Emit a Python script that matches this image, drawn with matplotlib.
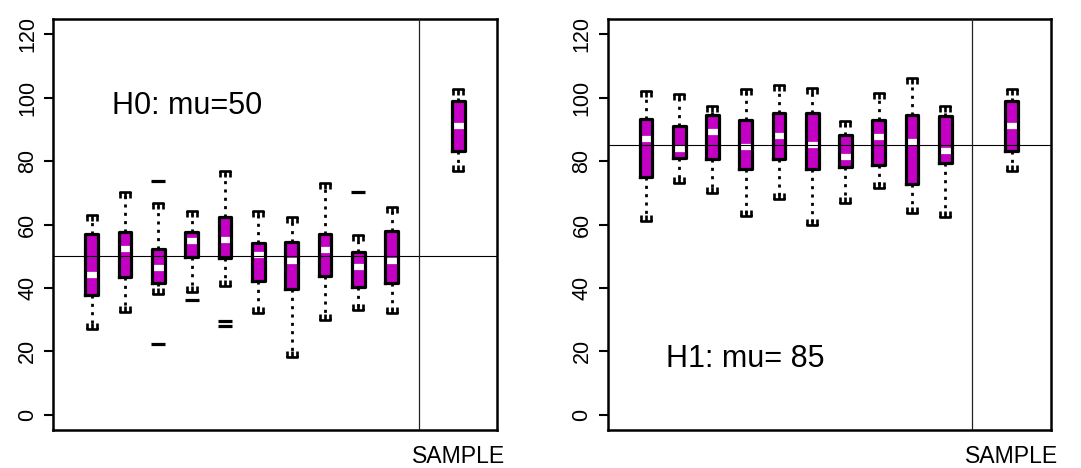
import matplotlib
matplotlib.use("Agg")
import matplotlib.pyplot as plt
from matplotlib.path import Path
import numpy as np

plt.rcParams['font.family'] = ['Liberation Sans', 'DejaVu Sans']
plt.rcParams['ytick.labelsize'] = 15.5
plt.rcParams['ytick.major.size'] = 6.5
plt.rcParams['ytick.major.width'] = 1.5
plt.rcParams['ytick.major.pad'] = 4.5

# ---------------- data ----------------
positions = [1, 2, 3, 4, 5, 6, 7, 8, 9, 10]
sample_pos = 12
divider_x = 10.81

# H0 panel (10 simulated samples under mu = 50)
h0_whislo = [28.0, 33.4, 39.0, 39.8, 41.4, 33.0, 19.1, 30.7, 34.0, 33.0]
h0_q1     = [37.8, 43.4, 41.7, 49.6, 49.4, 42.3, 39.7, 43.9, 40.2, 41.5]
h0_med    = [44.1, 52.3, 46.2, 54.8, 55.2, 50.4, 48.5, 51.9, 46.7, 48.6]
h0_q3     = [57.0, 57.7, 52.2, 57.7, 62.5, 54.1, 54.5, 57.0, 51.2, 58.0]
h0_whishi = [61.9, 69.2, 65.8, 63.2, 75.8, 63.4, 61.3, 72.2, 55.6, 64.5]
h0_fliers = [[], [], [73.6, 22.3], [36.2], [29.7, 28.0], [], [], [], [70.2], []]
h0_mu = 50
h0_label = "H0: mu=50"

# H1 panel (10 simulated samples under mu = 85)
h1_whislo = [61.9, 74.1, 70.9, 63.7, 69.0, 60.8, 67.8, 72.4, 64.5, 63.2]
h1_q1     = [75.1, 80.9, 80.6, 77.5, 80.6, 77.4, 78.1, 78.7, 72.8, 79.3]
h1_med    = [87.0, 83.8, 89.3, 84.4, 87.9, 85.1, 81.4, 87.7, 86.0, 83.3]
h1_q3     = [93.3, 91.1, 94.5, 93.0, 95.3, 95.3, 88.1, 93.0, 94.5, 94.2]
h1_whishi = [101.3, 100.3, 96.3, 101.9, 103.0, 102.2, 91.8, 100.5, 105.3, 96.3]
h1_fliers = [[], [], [], [], [], [], [], [], [], []]
h1_mu = 85
h1_label = "H1: mu= 85"

# observed sample (same in both panels)
s_whislo, s_q1, s_med, s_q3, s_whishi = 77.9, 83.2, 91.0, 99.1, 101.8
sample_label = "SAMPLE"

yticks = [0, 20, 40, 60, 80, 100, 120]

# ---------------- style ----------------
FILL = '#C400C4'
BOXW = 0.38

def staple_path(top=True):
    s = 1 if top else -1
    verts = [(-1, 0.5 * s), (1, 0.5 * s),
             (-0.85, 0.5 * s), (-0.85, -0.5 * s),
             (0, 0.5 * s), (0, -0.5 * s),
             (0.85, 0.5 * s), (0.85, -0.5 * s)]
    codes = [Path.MOVETO, Path.LINETO] * 4
    return Path(verts, codes)

TOP_STAPLE = staple_path(True)
BOT_STAPLE = staple_path(False)


def draw_panel(ax, lo, q1, med, q3, hi, fliers, mu, label, label_y):
    stats = []
    for i in range(len(lo)):
        stats.append(dict(med=med[i], q1=q1[i], q3=q3[i],
                          whislo=lo[i], whishi=hi[i], fliers=fliers[i]))
    stats.append(dict(med=s_med, q1=s_q1, q3=s_q3,
                      whislo=s_whislo, whishi=s_whishi, fliers=[]))
    pos = positions + [sample_pos]

    # pass 1: whiskers, fill, median, fliers
    ax.bxp(stats, positions=pos, widths=BOXW, patch_artist=True,
           showcaps=False, showfliers=True, manage_ticks=False,
           boxprops=dict(facecolor=FILL, edgecolor=FILL, linewidth=0.8, zorder=3),
           medianprops=dict(color='white', linewidth=4.5, solid_capstyle='butt', zorder=4),
           whiskerprops=dict(color='black', linewidth=2.0,
                             linestyle=(0, (1.1, 1.9)), zorder=2),
           flierprops=dict(marker='_', markersize=10, markeredgewidth=2.3,
                           markeredgecolor='black', linestyle='none', zorder=5))
    # pass 2: black box outlines
    ax.bxp(stats, positions=pos, widths=BOXW, patch_artist=False,
           showcaps=False, showfliers=False, manage_ticks=False,
           boxprops=dict(color='black', linewidth=2.3, zorder=5),
           medianprops=dict(linewidth=0),
           whiskerprops=dict(linewidth=0))

    # staples
    ax.plot(pos, [s['whishi'] for s in stats], linestyle='none',
            marker=TOP_STAPLE, markersize=8.5, markeredgewidth=1.9,
            color='black', zorder=5)
    ax.plot(pos, [s['whislo'] for s in stats], linestyle='none',
            marker=BOT_STAPLE, markersize=8.5, markeredgewidth=1.9,
            color='black', zorder=5)

    ax.axhline(mu, color='black', linewidth=0.8, zorder=6)
    ax.axvline(divider_x, color='#222222', linewidth=0.9, zorder=6)

    ax.set_xlim(-0.15, 13.17)
    ax.set_ylim(-4.8, 124.8)
    ax.set_xticks([])
    ax.set_yticks(yticks)
    ax.set_yticklabels([str(t) for t in yticks], rotation=90, va='center')
    for sp in ax.spines.values():
        sp.set_linewidth(1.8)

    ax.text(1.6, label_y, label, fontsize=22, ha='left', va='baseline')
    ax.annotate(sample_label, xy=(sample_pos, 0), xycoords=('data', 'axes fraction'),
                xytext=(0, -27.3), textcoords='offset points',
                ha='center', va='bottom', fontsize=16.6, annotation_clip=False)


fig = plt.figure(figsize=(10.81, 4.68), dpi=100)
ax1 = fig.add_axes([53.3 / 1081, 38 / 468, 444 / 1081, 411 / 468])
ax2 = fig.add_axes([607.7 / 1081, 38 / 468, 443 / 1081, 411 / 468])

draw_panel(ax1, h0_whislo, h0_q1, h0_med, h0_q3, h0_whishi, h0_fliers, h0_mu, h0_label, 95)
draw_panel(ax2, h1_whislo, h1_q1, h1_med, h1_q3, h1_whishi, h1_fliers, h1_mu, h1_label, 15)

fig.savefig("out.png", dpi=100)
